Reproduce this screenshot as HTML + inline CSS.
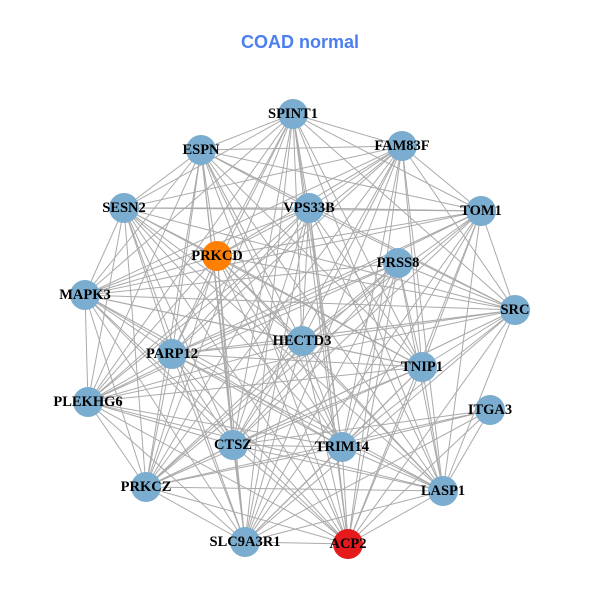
<!DOCTYPE html>
<html><head><meta charset="utf-8"><style>
html,body{margin:0;padding:0;background:#fff;}
svg{display:block}
text.l{font-family:"Liberation Serif",serif;font-weight:bold;font-size:14.5px;fill:#000;text-anchor:middle;dominant-baseline:central}
</style></head><body>
<svg id="s" width="600" height="600" viewBox="0 0 600 600">
<text x="300" y="42" text-anchor="middle" dominant-baseline="central" font-family="Liberation Sans, sans-serif" font-weight="bold" font-size="18" fill="#4c7ef0">COAD normal</text>
<g id="e" stroke="#aaaaaa" stroke-width="1"></g>
<g id="n">
<circle cx="293" cy="114" r="15" fill="#7aadd0"/><text class="l" x="293" y="114">SPINT1</text>
<circle cx="402" cy="146" r="15" fill="#7aadd0"/><text class="l" x="402" y="146">FAM83F</text>
<circle cx="201" cy="150" r="15" fill="#7aadd0"/><text class="l" x="201" y="150">ESPN</text>
<circle cx="481" cy="211" r="15" fill="#7aadd0"/><text class="l" x="481" y="211">TOM1</text>
<circle cx="124" cy="208" r="15" fill="#7aadd0"/><text class="l" x="124" y="208">SESN2</text>
<circle cx="309" cy="208" r="15" fill="#7aadd0"/><text class="l" x="309" y="208">VPS33B</text>
<circle cx="217" cy="256" r="15" fill="#ff7f00"/><text class="l" x="217" y="256">PRKCD</text>
<circle cx="398" cy="263" r="15" fill="#7aadd0"/><text class="l" x="398" y="263">PRSS8</text>
<circle cx="85" cy="295" r="15" fill="#7aadd0"/><text class="l" x="85" y="295">MAPK3</text>
<circle cx="515" cy="310" r="15" fill="#7aadd0"/><text class="l" x="515" y="310">SRC</text>
<circle cx="302" cy="341" r="15" fill="#7aadd0"/><text class="l" x="302" y="341">HECTD3</text>
<circle cx="172" cy="354" r="15" fill="#7aadd0"/><text class="l" x="172" y="354">PARP12</text>
<circle cx="422" cy="367" r="15" fill="#7aadd0"/><text class="l" x="422" y="367">TNIP1</text>
<circle cx="88" cy="402" r="15" fill="#7aadd0"/><text class="l" x="88" y="402">PLEKHG6</text>
<circle cx="490" cy="410" r="15" fill="#7aadd0"/><text class="l" x="490" y="410">ITGA3</text>
<circle cx="233" cy="445" r="15" fill="#7aadd0"/><text class="l" x="233" y="445">CTSZ</text>
<circle cx="342" cy="447" r="15" fill="#7aadd0"/><text class="l" x="342" y="447">TRIM14</text>
<circle cx="146" cy="487" r="15" fill="#7aadd0"/><text class="l" x="146" y="487">PRKCZ</text>
<circle cx="443" cy="491" r="15" fill="#7aadd0"/><text class="l" x="443" y="491">LASP1</text>
<circle cx="245" cy="542" r="15" fill="#7aadd0"/><text class="l" x="245" y="542">SLC9A3R1</text>
<circle cx="348" cy="544" r="15" fill="#e41a1c"/><text class="l" x="348" y="544">ACP2</text>
</g>
</svg>
<script>
var c=document.querySelectorAll('#n circle'),p=[];
c.forEach(function(k){p.push([+k.getAttribute('cx'),+k.getAttribute('cy')]);});
var g=document.getElementById('e'),h='';
for(var i=0;i<p.length;i++)for(var j=i+1;j<p.length;j++){
 if((i*7+j*3)%7==0)continue;
 h+='<line x1="'+p[i][0]+'" y1="'+p[i][1]+'" x2="'+p[j][0]+'" y2="'+p[j][1]+'"/>';
}
g.innerHTML=h;
</script>
</body></html>
